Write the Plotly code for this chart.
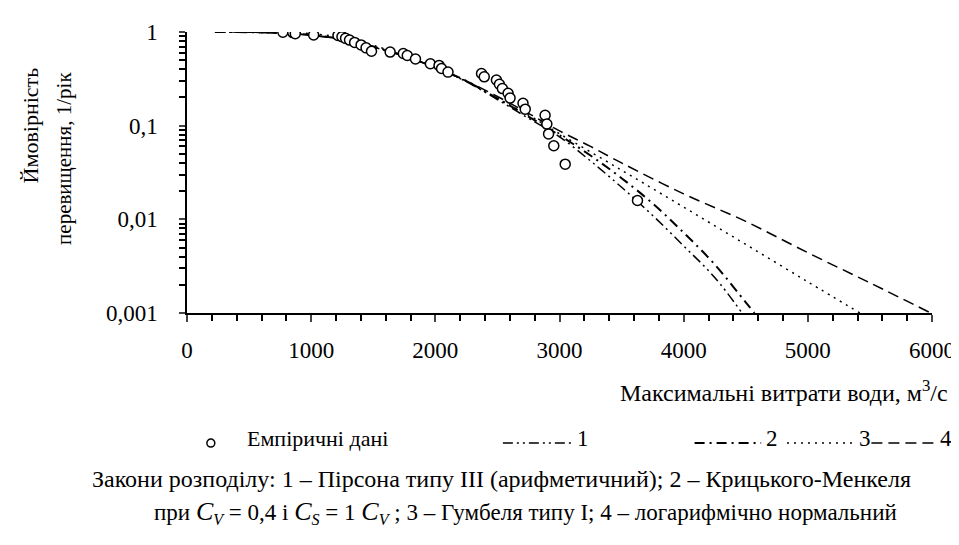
import plotly.graph_objects as go

# ---------------- data ----------------
emp_q = [772, 852, 872, 1020, 1216, 1248, 1277, 1309, 1350, 1402, 1442, 1486,
         1636, 1742, 1774, 1840, 1960, 2030, 2050, 2102, 2372, 2394, 2492, 2516,
         2540, 2586, 2602, 2706, 2724, 2884, 2898, 2912, 2954, 3046, 3628]
emp_p = [0.995, 0.985, 0.96, 0.93, 0.92, 0.89, 0.855, 0.82, 0.774, 0.728, 0.677, 0.623,
         0.61, 0.589, 0.561, 0.515, 0.458, 0.44, 0.408, 0.373, 0.361, 0.332, 0.307, 0.277,
         0.249, 0.222, 0.197, 0.173, 0.150, 0.129, 0.104, 0.0816, 0.061, 0.0388, 0.0159]

# 1 - Pearson III
c1_q = [225, 500, 750, 1000, 1250, 1500, 1750, 2000, 2250, 2500, 2750, 3000, 3250, 3500, 3750, 4000, 4250, 4470]
c1_p = [0.999, 0.995, 0.975, 0.925, 0.835, 0.69, 0.55, 0.415, 0.295, 0.19, 0.12, 0.076, 0.042, 0.022, 0.011, 0.0052, 0.0024, 0.001]
# 2 - Kritsky-Menkel
c2_q = [225, 500, 750, 1000, 1250, 1500, 1750, 2000, 2250, 2500, 2750, 3000, 3250, 3500, 3750, 4000, 4250, 4500, 4570]
c2_p = [0.999, 0.995, 0.975, 0.93, 0.84, 0.70, 0.555, 0.42, 0.30, 0.195, 0.125, 0.079, 0.048, 0.0275, 0.0148, 0.0072, 0.0033, 0.0013, 0.001]
# 3 - Gumbel I
c3_q = [225, 500, 750, 1000, 1250, 1500, 1750, 2000, 2250, 2500, 2750, 3000, 3500, 4000, 4500, 5000, 5420]
c3_p = [0.999, 0.998, 0.99, 0.96, 0.87, 0.72, 0.56, 0.417, 0.295, 0.195, 0.13, 0.082, 0.0335, 0.0135, 0.0054, 0.00215, 0.001]
# 4 - log-normal
c4_q = [225, 500, 750, 1000, 1250, 1500, 1750, 2000, 2250, 2500, 2750, 3000, 3250, 3500, 4000, 4500, 5000, 5500, 5990]
c4_p = [0.999, 0.995, 0.975, 0.92, 0.83, 0.69, 0.55, 0.42, 0.30, 0.205, 0.135, 0.088, 0.06, 0.04, 0.0187, 0.0095, 0.0044, 0.0021, 0.001]

x_ticks = [0, 1000, 2000, 3000, 4000, 5000, 6000]
y_ticks = [0.001, 0.01, 0.1, 1]
y_ticktext = ["0,001", "0,01", "0,1", "1"]
legend_labels = ["Емпіричні дані", "1", "2", "3", "4"]
x_title = "Максимальні витрати води, м<sup>3</sup>/с"
y_title = ["Ймовірність", "перевищення, 1/рік"]
caption = ["Закони розподілу: 1 – Пірсона типу III (арифметичний); 2 – Крицького-Менкеля",
           "при <span style='font-size:26px'><i>C</i></span><sub><i>V</i></sub> = 0,4 і "
           "<span style='font-size:26px'><i>C</i></span><sub><i>S</i></sub> = 1 "
           "<span style='font-size:26px'><i>C</i></span><sub><i>V</i></sub> ; 3 – Гумбеля типу I; 4 – логарифмічно нормальний"]

FONT = "Liberation Serif, Times New Roman, serif"
FS = 23

fig = go.Figure()
dash1 = "10px,4px,2px,4px,2px,4px"
dash2 = "10px,5px,2px,5px"
dash3 = "2px,5px"
dash4 = "11px,6px"
fig.add_trace(go.Scatter(x=c1_q, y=c1_p, mode="lines", line=dict(color="black", width=1.5, dash=dash1, shape="spline"), showlegend=False))
fig.add_trace(go.Scatter(x=c2_q, y=c2_p, mode="lines", line=dict(color="black", width=2, dash=dash2, shape="spline"), showlegend=False))
fig.add_trace(go.Scatter(x=c3_q, y=c3_p, mode="lines", line=dict(color="black", width=1.5, dash=dash3, shape="spline"), showlegend=False))
fig.add_trace(go.Scatter(x=c4_q, y=c4_p, mode="lines", line=dict(color="black", width=1.5, dash=dash4, shape="spline"), showlegend=False))
fig.add_trace(go.Scatter(x=emp_q, y=emp_p, mode="markers",
                         marker=dict(symbol="circle", size=10, color="white", line=dict(color="black", width=1.5)),
                         showlegend=False))

L, R, T, B = 179, 30, 22, 240
W, H = 959, 545
PW, PH = W - L - R, H - T - B

def px(xp):
    return (xp - L) / PW

def py(yp):
    return (H - B - yp) / PH

def tf(size=FS):
    return dict(family=FONT, size=size, color="black")

fig.update_layout(
    width=W, height=H, margin=dict(l=L, r=R, t=T, b=B),
    plot_bgcolor="white", paper_bgcolor="white",
    font=tf(),
    xaxis=dict(range=[0, 6000], tickvals=x_ticks, ticks="outside", ticklen=7, tickwidth=1.5,
               showline=True, linecolor="black", linewidth=1.5, showgrid=False, zeroline=False,
               tickfont=tf(), ticklabelstandoff=9,
               minor=dict(dtick=200, ticks="outside", ticklen=6, tickwidth=1.5, tickcolor="black")),
    yaxis=dict(type="log", range=[-3, 0], tickvals=y_ticks, ticktext=y_ticktext, ticks="outside",
               ticklen=6, tickwidth=1.5, showline=True, linecolor="black", linewidth=1.5,
               showgrid=False, zeroline=False, tickfont=tf(), ticklabelstandoff=17,
               minor=dict(tickmode="array",
                          tickvals=[m * 10 ** e for e in (-3, -2, -1) for m in range(2, 10)],
                          ticks="outside", ticklen=6, tickwidth=1.5, tickcolor="black")),
)

ann = []
ann.append(dict(text=x_title, x=px(947), y=py(384), xref="paper", yref="paper",
                xanchor="right", yanchor="middle", showarrow=False, font=tf(24)))
ann.append(dict(text=y_title[0], x=px(21), y=py(116), xref="paper", yref="paper", textangle=-90,
                xanchor="center", yanchor="middle", showarrow=False, font=tf(22)))
ann.append(dict(text=y_title[1], x=px(55), y=py(149), xref="paper", yref="paper", textangle=-90,
                xanchor="center", yanchor="middle", showarrow=False, font=tf(21)))
ann.append(dict(text=caption[0], x=px(496), y=py(472), xref="paper", yref="paper",
                xanchor="center", yanchor="middle", showarrow=False, font=tf(24)))
ann.append(dict(text=caption[1], x=px(520), y=py(506), xref="paper", yref="paper",
                xanchor="center", yanchor="middle", showarrow=False, font=tf(23)))

# legend row (manual)
LY = 431
ann.append(dict(text=legend_labels[0], x=px(237), y=py(LY), xref="paper", yref="paper",
                xanchor="left", yanchor="middle", showarrow=False, font=tf(22)))
shapes = [dict(type="circle", xref="paper", yref="paper", x0=px(199), x1=px(207), y0=py(LY + 9), y1=py(LY + 1),
               line=dict(color="black", width=1.5), fillcolor="white")]
leg_items = [(497, 567, dash1, 1.5, 1), (690, 757, dash2, 2, 2), (783, 850, dash3, 1.5, 3), (868, 932, dash4, 1.5, 4)]
for x0, x1, d, w, i in leg_items:
    shapes.append(dict(type="line", xref="paper", yref="paper", x0=px(x0), x1=px(x1), y0=py(LY + 5), y1=py(LY + 5),
                       line=dict(color="black", width=w, dash=d)))
    ann.append(dict(text=legend_labels[i], x=px(x1 + 3), y=py(LY), xref="paper", yref="paper",
                    xanchor="left", yanchor="middle", showarrow=False, font=tf()))

fig.update_layout(annotations=ann, shapes=shapes)
fig.write_html("out.html")
